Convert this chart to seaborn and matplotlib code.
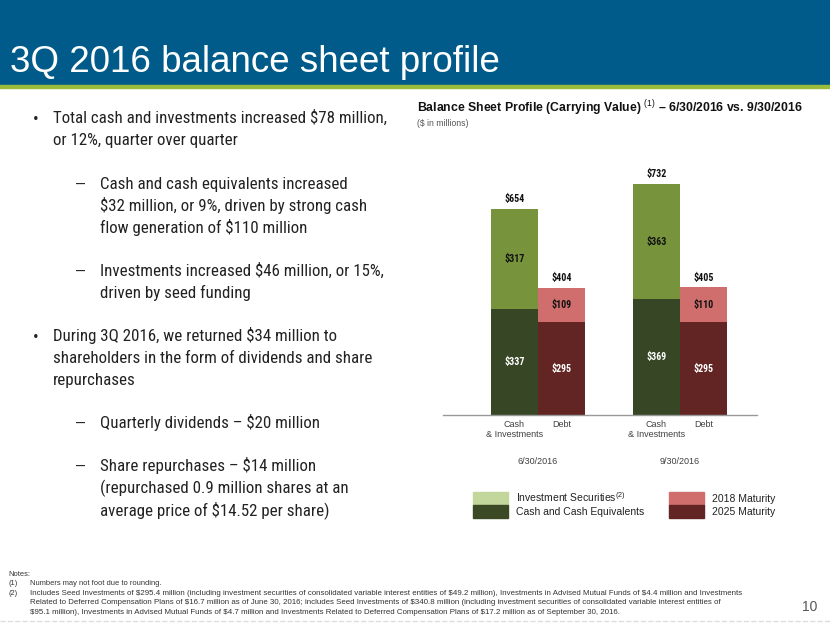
import matplotlib
matplotlib.use("Agg")
import numpy as np
import pandas as pd
import matplotlib.pyplot as plt
from matplotlib import font_manager
from matplotlib.patches import Patch, Rectangle
from matplotlib.lines import Line2D
import seaborn as sns

# chart values ($ in millions)
periods = ["6/30/2016", "9/30/2016"]
cash_equivalents = [337, 369]
investment_securities = [317, 363]
debt_2025 = [295, 295]
debt_2018 = [109, 110]
cash_totals = [654, 732]
debt_totals = [404, 405]
bar_labels = ["Cash\n& Investments", "Debt"]

bullets = [
    ("•", ["Total cash and investments increased \\$78 million,",
           "or 12%, quarter over quarter"]),
    ("−", ["Cash and cash equivalents increased",
           "\\$32 million, or 9%, driven by strong cash",
           "flow generation of \\$110 million"]),
    ("−", ["Investments increased \\$46 million, or 15%,",
           "driven by seed funding"]),
    ("•", ["During 3Q 2016, we returned \\$34 million to",
           "shareholders in the form of dividends and share",
           "repurchases"]),
    ("−", ["Quarterly dividends – \\$20 million"]),
    ("−", ["Share repurchases – \\$14 million",
           "(repurchased 0.9 million shares at an",
           "average price of \\$14.52 per share)"]),
]
bullet_tops = [117, 183, 270, 335, 422, 465]

notes = [
    ("", "Notes:"),
    ("(1)", "Numbers may not foot due to rounding."),
    ("(2)", "Includes Seed Investments of \\$295.4 million (including investment securities of consolidated variable interest entities of \\$49.2 million), Investments in Advised Mutual Funds of \\$4.4 million and Investments"),
    ("", "Related to Deferred Compensation Plans of \\$16.7 million as of June 30, 2016; includes Seed Investments of \\$340.8 million (including investment securities of consolidated variable interest entities of"),
    ("", "\\$95.1 million), Investments in Advised Mutual Funds of \\$4.7 million and Investments Related to Deferred Compensation Plans of \\$17.2 million as of September 30, 2016."),
]

sns.set_style("white")
names = {f.name for f in font_manager.fontManager.ttflist}
NARROW = "Liberation Sans"
for cand in ["Liberation Sans Narrow", "Roboto Condensed", "Open Sans Condensed"]:
    if cand in names:
        NARROW = cand
        break
plt.rcParams["font.family"] = ["Liberation Sans", "DejaVu Sans"]
plt.rcParams["mathtext.fontset"] = "custom"
plt.rcParams["mathtext.rm"] = "Liberation Sans"
plt.rcParams["mathtext.it"] = "Liberation Sans:italic"
plt.rcParams["mathtext.bf"] = "Liberation Sans:bold"

W, H = 830, 623
fx = lambda px: px / W
fy = lambda py: 1 - py / H

fig = plt.figure(figsize=(W / 100, H / 100), dpi=100)
renderer = fig.canvas.get_renderer()


def fit_size(text, target_px, family, weight="normal", base=10.0):
    t = fig.text(0, 0, text, fontsize=base, family=family, weight=weight)
    w = t.get_window_extent(renderer).width
    t.remove()
    return base * target_px / w


bullet_fs = fit_size(bullets[0][1][0], 332, NARROW)
label_fs = min(8.0, fit_size("$654", 20, NARROW, "bold"))

# header band
fig.patches.append(Rectangle((0, fy(85)), 1, 85 / H, transform=fig.transFigure,
                             color="#005B8A", zorder=0))
fig.patches.append(Rectangle((0, fy(88)), 1, 3 / H, transform=fig.transFigure,
                             color="#9BBB3A", zorder=0))
fig.text(fx(10), fy(72), "3Q 2016 balance sheet profile", color="white",
         fontsize=26.5, va="baseline", ha="left")
fig.lines.append(Line2D([0, 1], [fy(621), fy(621)], transform=fig.transFigure,
                        color="#DDDDDD", lw=1, ls="--"))

# bullets (baseline about 6 px below the line centre)
step = 22
for (mark, lines), top in zip(bullets, bullet_tops):
    if mark == "•":
        fig.text(fx(33), fy(top + 2), mark, fontsize=bullet_fs, family=NARROW,
                 va="center", color="#222222")
        tx = 53
    else:
        fig.text(fx(76), fy(top + 1), "–", fontsize=bullet_fs * 0.95,
                 family="Liberation Sans", va="center", color="#222222")
        tx = 100
    for k, line in enumerate(lines):
        fig.text(fx(tx), fy(top + k * step + 6), line, fontsize=bullet_fs,
                 family=NARROW, va="baseline", color="#222222")

# notes
for k, (num, txt) in enumerate(notes):
    y = 574 + k * 9.6
    fs = 5.4 if k < 2 else 5.7
    if num:
        fig.text(fx(8), fy(y), num, fontsize=5.4, va="center", color="#333333")
    fig.text(fx(8 if k == 0 else 30), fy(y), txt, fontsize=fs, va="center",
             color="#333333")
fig.text(fx(802), fy(607), "10", fontsize=10, va="center", color="#555555")

# chart titles
fig.text(fx(417), fy(108),
         "Balance Sheet Profile (Carrying Value) $^{(1)}$ – 6/30/2016 vs. 9/30/2016",
         fontsize=8.8, weight="bold", va="center", color="#111111")
fig.text(fx(417), fy(123), "(\\$ in millions)", fontsize=6.2, va="center",
         color="#555555")

# data frame of bars
rows = []
for i, period in enumerate(periods):
    rows.append({"period": period, "kind": "Cash", "pos": 3 * i,
                 "lower": cash_equivalents[i], "upper": investment_securities[i],
                 "total": cash_totals[i]})
    rows.append({"period": period, "kind": "Debt", "pos": 3 * i + 1,
                 "lower": debt_2025[i], "upper": debt_2018[i],
                 "total": debt_totals[i]})
df = pd.DataFrame(rows)

upper_pal = {"Cash": "#77933C", "Debt": "#D06E6E"}
lower_pal = {"Cash": "#374725", "Debt": "#632523"}

ax = fig.add_axes([fx(443), fy(415), fx(757) - fx(443), 265 / H])
sns.barplot(data=df, x="pos", y="total", hue="kind", palette=upper_pal,
            native_scale=True, width=1, dodge=False, legend=False,
            saturation=1, linewidth=0, ax=ax)
sns.barplot(data=df, x="pos", y="lower", hue="kind", palette=lower_pal,
            native_scale=True, width=1, dodge=False, legend=False,
            saturation=1, linewidth=0, ax=ax)

for _, r in df.iterrows():
    ax.text(r.pos, r.lower / 2, f"${r.lower}", ha="center", va="center",
            fontsize=label_fs, weight="bold", family=NARROW, color="white")
    ax.text(r.pos, r.lower + r.upper / 2, f"${r.upper}", ha="center", va="center",
            fontsize=label_fs, weight="bold", family=NARROW, color="#111111")
    ax.annotate(f"${r.total}", (r.pos, r.total), xytext=(0, 7.2),
                textcoords="offset points", ha="center", va="center",
                fontsize=label_fs, weight="bold", family=NARROW, color="#111111")

for i, period in enumerate(periods):
    ax.text(3 * i + 0.5, -47 / 265, period, transform=ax.get_xaxis_transform(),
            ha="center", va="center", fontsize=6.5, color="#404040")

ax.set_xlim(-1.51, 5.13)
ax.set_ylim(0, 265 / 0.315)
ax.set_xticks(df.pos)
ax.set_xticklabels([bar_labels[0] if k == "Cash" else bar_labels[1] for k in df.kind],
                   fontsize=6.5, color="#404040")
ax.tick_params(axis="x", length=0, pad=3.5)
ax.set_yticks([])
ax.set_xlabel("")
ax.set_ylabel("")
for s in ["top", "right", "left"]:
    ax.spines[s].set_visible(False)
ax.spines["bottom"].set_color("#999999")
ax.spines["bottom"].set_linewidth(1)
ax.set_facecolor("none")

handles = [
    Patch(color="#C3D69B", label="Investment Securities$^{(2)}$"),
    Patch(color="#3B4A25", label="Cash and Cash Equivalents"),
    Patch(color="#D06E6E", label="2018 Maturity"),
    Patch(color="#632523", label="2025 Maturity"),
]
leg = fig.legend(handles=handles, ncol=2, loc="upper left",
                 bbox_to_anchor=(fx(473), fy(490)), frameon=False,
                 borderpad=0, borderaxespad=0, fontsize=7.5,
                 handlelength=3.36, handleheight=1.54, handletextpad=0.77,
                 labelspacing=0, columnspacing=2.4)
for t in leg.get_texts():
    t.set_color("#222222")

fig.savefig("out.png", dpi=100)
